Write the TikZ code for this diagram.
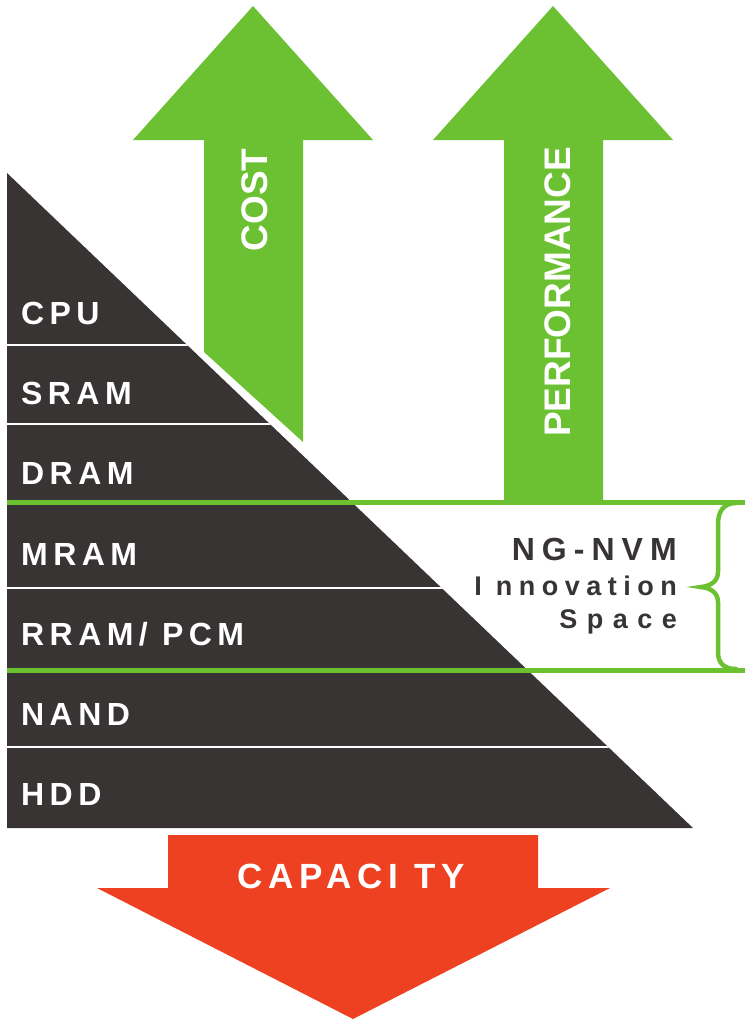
\documentclass[tikz,border=0pt]{standalone}
\usepackage{fontspec}
\setmainfont{Liberation Sans}
\newfontfamily\lblfont[LetterSpace=17]{Liberation Sans}
\newfontfamily\ngfont[LetterSpace=22]{Liberation Sans}
\newfontfamily\infont[LetterSpace=24]{Liberation Sans}
\newfontfamily\spfont[LetterSpace=35]{Liberation Sans}
\newfontfamily\capfont[LetterSpace=17]{Liberation Sans}
\definecolor{dark}{HTML}{373433}
\definecolor{grn}{HTML}{6CC132}
\definecolor{org}{HTML}{EE4122}
\tikzset{
  lab/.style={anchor=base west, inner sep=0pt, text=white, font=\lblfont\bfseries\fontsize{32}{32}\selectfont},
  ng/.style={anchor=base east, inner sep=0pt, text=dark},
  vert/.style={anchor=base, rotate=90, inner sep=0pt, text=white, font=\bfseries\fontsize{37}{37}\selectfont},
  sep/.style={white, line width=2pt},
  gline/.style={grn, line width=5pt},
}
\begin{document}
\begin{tikzpicture}[x=1pt,y=-1pt]
\useasboundingbox (0,0) rectangle (745,1021);
% triangle
\fill[dark] (7,173) -- (7,828) -- (693,828) -- cycle;
\begin{scope}
  \clip (7,173) -- (7,828) -- (693,828) -- cycle;
  \foreach \yy in {345,424,588,747} \draw[sep] (0,\yy) -- (745,\yy);
\end{scope}
% arrows
\fill[grn] (253,6) -- (373,140) -- (303,140) -- (303,442) -- (204,352) -- (204,140) -- (133,140) -- cycle;
\fill[grn] (553,6) -- (673,140) -- (603,140) -- (603,502) -- (504,502) -- (504,140) -- (433,140) -- cycle;
\fill[org] (168,835) -- (538,835) -- (538,888) -- (610,888) -- (353,1019) -- (97,888) -- (168,888) -- cycle;
% green lines and brace
\draw[gline] (7,502) -- (745,502);
\draw[gline] (7,670) -- (745,670);
\draw[grn, line width=4.5pt, line cap=round]
  (736,503) .. controls (724,503) and (718,511) .. (718,524)
  -- (718,572) .. controls (718,581) and (711,586) .. (701,587)
  .. controls (711,588) and (718,593) .. (718,602)
  -- (718,652) .. controls (718,663) and (724,669) .. (736,669);
% labels
\node[lab] (cpu) at (21,324) {CPU};
\node[lab] (sram) at (21,404) {SRAM};
\node[lab] (dram) at (21,484) {DRAM};
\node[lab] (mram) at (21,565) {MRAM};
\node[lab] (rram) at (21,645) {RRAM/ PCM};
\node[lab] (nand) at (21,725) {NAND};
\node[lab] (hdd) at (21,805) {HDD};
\node[ng, font=\ngfont\bfseries\fontsize{32}{32}\selectfont] (ngnvm) at (677,560) {NG-NVM};
\node[ng, font=\infont\bfseries\fontsize{27}{27}\selectfont] (innov) at (677,595) {I nnovation};
\node[ng, font=\spfont\bfseries\fontsize{27}{27}\selectfont] (space) at (677,628) {Space};
\node[vert] (cost) at (267,200) {COST};
\node[vert] (perf) at (570,292) {PERFORMANCE};
\node[anchor=base, inner sep=0pt, text=white, font=\capfont\bfseries\fontsize{35}{35}\selectfont] (cap) at (351,888) {CAPACI TY};
\end{tikzpicture}
\end{document}
